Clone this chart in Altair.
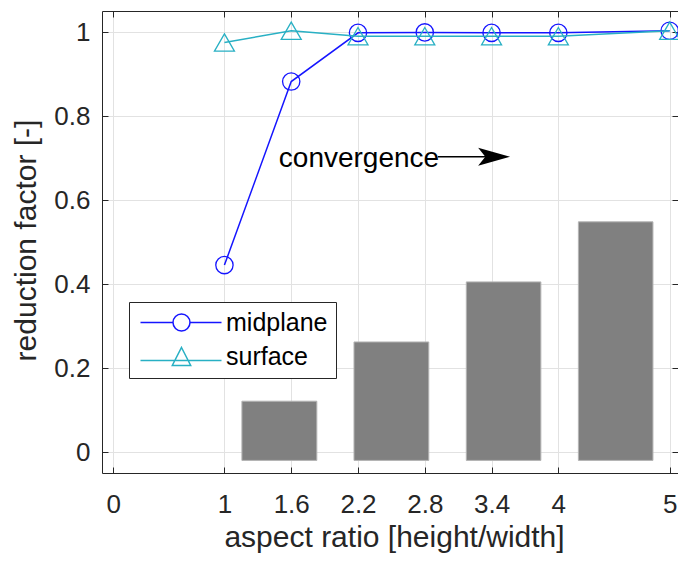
import altair as alt
import pandas as pd

# ---- data ----
aspect = [1, 1.6, 2.2, 2.8, 3.4, 4, 5]
midplane = [0.445, 0.882, 0.998, 0.999, 0.998, 0.998, 1.003]
surface = [0.975, 1.003, 0.990, 0.990, 0.990, 0.990, 1.003]
series_names = ["midplane", "surface"]

bar_left = [1.157, 2.164, 3.173, 4.180]
bar_right = [1.830, 2.836, 3.843, 4.850]
bar_top = [0.121, 0.262, 0.405, 0.548]
bar_base = [-0.02, -0.02, -0.02, -0.02]

x_ticks = [0, 1, 1.6, 2.2, 2.8, 3.4, 4, 5]
y_ticks = [0, 0.2, 0.4, 0.6, 0.8, 1]

annot_label = ["convergence"]
annot_x = [2.209]
annot_y = [0.678]
arrow_y = [0.703]
arrow_x0 = [2.918]
arrow_x1 = [3.45]
arrow_head_x = [3.423]

# ---- styling ----
FONT = "Liberation Sans"
AX = "#262626"
GRID = "#e2e2e2"
BLUE = "#1515ff"
CYAN = "#28b0c4"
TICK_FS = 26
TITLE_FS = 30

lines_df = pd.DataFrame({
    "aspect": aspect * 2,
    "value": midplane + surface,
    "series": [series_names[0]] * len(aspect) + [series_names[1]] * len(aspect),
})
bars_df = pd.DataFrame({"x0": bar_left, "x1": bar_right, "base": bar_base, "top": bar_top})
annot_df = pd.DataFrame({"x": annot_x, "y": annot_y, "label": annot_label, "ay": arrow_y,
                         "ax0": arrow_x0, "ax1": arrow_x1, "hx": arrow_head_x})

xs = alt.Scale(domain=[-0.1, 5.075], nice=False, zero=False)
ys = alt.Scale(domain=[-0.05, 1.05], nice=False, zero=False)

x_main = alt.Axis(values=x_ticks, format="~g", title="aspect ratio [height/width]",
                  ticks=False, tickSize=0, domain=True, domainColor=AX, domainWidth=1,
                  grid=True, gridColor=GRID, gridWidth=1,
                  labelFont=FONT, labelFontSize=TICK_FS, labelColor=AX,
                  labelBaseline="alphabetic", labelPadding=39, labelFlush=False,
                  titleFont=FONT, titleFontSize=TITLE_FS, titleColor=AX, titleFontWeight="normal",
                  titleBaseline="alphabetic", titleY=73, titleX=292)
y_main = alt.Axis(values=y_ticks, format="~g", title="reduction factor [-]",
                  ticks=False, tickSize=0, domain=True, domainColor=AX, domainWidth=1,
                  grid=True, gridColor=GRID, gridWidth=1,
                  labelFont=FONT, labelFontSize=TICK_FS, labelColor=AX, labelPadding=12,
                  labelFlush=False,
                  titleFont=FONT, titleFontSize=TITLE_FS, titleColor=AX, titleFontWeight="normal",
                  titleBaseline="alphabetic", titleAngle=270, titleX=-67, titleY=229)

def tick_axis(orient, vals):
    return alt.Axis(orient=orient, values=vals, offset=-6, domain=False, labels=False,
                    ticks=True, tickSize=6, tickColor=AX, tickWidth=1, grid=False, title=None)

x_top_ticks = tick_axis("top", x_ticks)
x_bottom_ticks = tick_axis("bottom", x_ticks)
y_left_ticks = tick_axis("left", y_ticks)
y_right_ticks = tick_axis("right", y_ticks)
x_top_line = alt.Axis(orient="top", values=x_ticks, domain=True, domainColor=AX, domainWidth=1,
                      labels=False, ticks=False, grid=False, title=None)

bars = alt.Chart(bars_df).mark_rect(fill="#808080", stroke="#b4b4b4", strokeWidth=1).encode(
    x=alt.X("x0:Q", scale=xs, axis=x_main),
    x2="x1:Q",
    y=alt.Y("base:Q", scale=ys, axis=y_main),
    y2="top:Q",
)

base_lines = alt.Chart(lines_df)

mid_line = base_lines.transform_filter(alt.datum.series == series_names[0]).mark_line(
    color=BLUE, strokeWidth=1.5).encode(
    x=alt.X("aspect:Q", scale=xs, axis=x_top_ticks),
    y=alt.Y("value:Q", scale=ys, axis=y_right_ticks),
)
mid_pts = base_lines.transform_filter(alt.datum.series == series_names[0]).mark_point(
    shape="circle", filled=False, color=BLUE, size=300, strokeWidth=1.3, opacity=1).encode(
    x=alt.X("aspect:Q", scale=xs, axis=None),
    y=alt.Y("value:Q", scale=ys, axis=None),
)
sur_line = base_lines.transform_filter(alt.datum.series == series_names[1]).mark_line(
    color=CYAN, strokeWidth=1.5).encode(
    x=alt.X("aspect:Q", scale=xs, axis=x_bottom_ticks),
    y=alt.Y("value:Q", scale=ys, axis=y_left_ticks),
)
sur_pts = base_lines.transform_filter(alt.datum.series == series_names[1]).mark_point(
    shape="triangle-up", filled=False, color=CYAN, size=400, strokeWidth=1.3, opacity=1).encode(
    x=alt.X("aspect:Q", scale=xs, axis=x_top_line),
    y=alt.Y("value:Q", scale=ys, axis=None),
)

# legend symbols: line segment with marker (symbol size 256 -> 8 px per path unit)
circle_sym = ("M-1.125,0H2.9375M5.0625,0H9M5.0625,0A1.0625,1.0625,0,1,1,2.9375,0"
              "A1.0625,1.0625,0,1,1,5.0625,0")
tri_sym = "M-1.125,0.5H9M4,-1.125L5.15,1.125L2.85,1.125Z"
leg = alt.Legend(orient="none", legendX=27, legendY=291, title=None,
                 symbolSize=256, symbolStrokeWidth=1.5, symbolOpacity=1,
                 labelFont=FONT, labelFontSize=25, labelColor="#000000",
                 labelOffset=64, padding=8, rowPadding=8,
                 strokeColor=AX, fillColor="white")
legend_layer = base_lines.mark_point(filled=False, opacity=0).encode(
    x=alt.X("aspect:Q", scale=xs, axis=None),
    y=alt.Y("value:Q", scale=ys, axis=None),
    color=alt.Color("series:N", scale=alt.Scale(domain=series_names, range=[BLUE, CYAN]), legend=leg),
    shape=alt.Shape("series:N", scale=alt.Scale(domain=series_names, range=[circle_sym, tri_sym]), legend=leg),
)

annot_text = alt.Chart(annot_df).mark_text(font=FONT, fontSize=28, color="#000000",
                                           align="center", baseline="alphabetic").encode(
    x=alt.X("x:Q", scale=xs, axis=None),
    y=alt.Y("y:Q", scale=ys, axis=None),
    text="label:N",
)
arrow_shaft = alt.Chart(annot_df).mark_rule(color="#000000", strokeWidth=1.5).encode(
    x=alt.X("ax0:Q", scale=xs, axis=None),
    x2="ax1:Q",
    y=alt.Y("ay:Q", scale=ys, axis=None),
)
arrow_head = alt.Chart(annot_df).mark_point(
    shape="M1,0L-1,-0.56L-0.55,0L-1,0.56Z", filled=True, size=1024, color="#000000",
    opacity=1, strokeWidth=0).encode(
    x=alt.X("hx:Q", scale=xs, axis=None),
    y=alt.Y("ay:Q", scale=ys, axis=None),
)

chart = alt.layer(
    bars, mid_line, mid_pts, sur_line, sur_pts, legend_layer, annot_text, arrow_shaft, arrow_head
).resolve_axis(x="independent", y="independent").properties(
    width=576, height=462,
    autosize=alt.AutoSizeParams(type="none"),
    padding={"left": 94, "top": 3, "right": 0, "bottom": 80},
).configure_view(stroke=None)

chart.save("out.html", embed_options={"renderer": "svg", "actions": False})
